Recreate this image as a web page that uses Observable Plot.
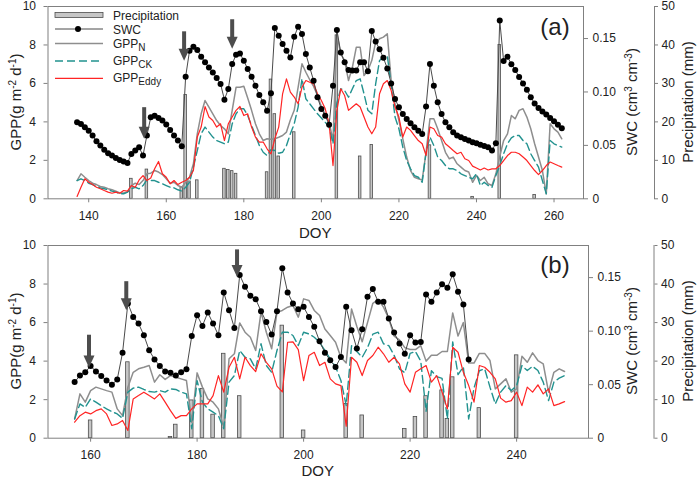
<!DOCTYPE html>
<html><head><meta charset="utf-8">
<script src="https://cdn.jsdelivr.net/npm/d3@7"></script>
<script src="https://cdn.jsdelivr.net/npm/@observablehq/plot@0.6"></script>
<style>
body{margin:0;background:#fff;font-family:"Liberation Sans",Arial,sans-serif;}
#root{position:relative;width:697px;height:480px;overflow:hidden;background:#fff;}
.panel{position:absolute;left:0;width:697px;height:240px;}
.panel svg{position:absolute;left:0;top:0;}
.lab{position:absolute;white-space:nowrap;font-size:15px;line-height:1;color:#222;transform:translate(-50%,-50%) rotate(-90deg);}
.hlab{position:absolute;white-space:nowrap;font-size:15px;line-height:1;color:#222;transform:translate(-50%,-50%);}
.lab sup{font-size:10px;vertical-align:0.45em;line-height:0;}
</style></head>
<body><div id="root"></div>
<script>
// ---------------- Panel (a) data ----------------
const startA = 137;
const swcA = [0.0716,0.0700,0.0669,0.0638,0.0592,0.0538,0.0498,0.0458,0.0426,0.0405,0.0383,0.0364,0.0349,0.0336,
0.0420,0.0451,0.0482,0.0405,0.0592,0.0763,0.0778,0.0757,0.0732,0.0695,0.0645,0.0592,0.0545,0.0492,
0.1143,0.1386,0.1423,0.1393,0.1330,0.1277,0.1230,0.1183,0.1131,0.1075,0.0928,0.1028,0.1262,0.1349,0.1361,
0.1293,0.1215,0.1143,0.1059,0.0972,0.0903,0.0825,0.0987,0.1598,0.1526,0.1449,0.1386,0.1323,0.1517,0.1610,
0.1542,0.1355,0.1230,0.1106,0.0950,0.0841,0.0778,0.0694,0.1059,0.1580,0.1370,0.1277,0.1206,0.1200,0.1200,
0.1277,0.1277,0.1193,0.1570,0.1473,0.1400,0.1320,0.1220,0.1080,0.0935,0.0856,0.0794,0.0747,0.0707,0.0669,
0.0638,0.0607,0.0863,0.1262,0.1059,0.0903,0.0794,0.0716,0.0669,0.0623,0.0592,0.0576,0.0560,0.0545,0.0529,
0.0520,0.0507,0.0495,0.0483,0.0451,0.0520,0.1670,0.1290,0.1330,0.1260,0.1206,0.1140,0.1080,0.1020,0.0950,
0.0893,0.0850,0.0816,0.0788,0.0757,0.0725,0.0694,0.0660];
const gppNA = [0.95,1.30,1.12,0.95,0.81,0.74,0.64,0.60,0.52,0.47,0.40,0.30,0.30,0.35,0.69,0.81,0.74,0.95,1.30,1.33,
1.47,1.39,1.26,1.04,0.81,0.86,0.69,0.60,0.86,1.12,1.82,3.38,4.42,5.11,4.77,4.42,4.07,3.81,3.64,3.38,4.60,5.80,
5.80,5.85,5.24,4.60,3.90,3.38,3.03,3.12,3.10,3.12,3.20,3.29,3.47,4.10,4.60,5.80,7.02,6.58,6.19,5.84,5.37,4.80,
4.38,3.98,3.03,8.58,7.54,7.19,6.15,6.84,7.88,7.88,6.41,6.67,7.19,8.15,8.32,8.41,8.58,6.15,4.94,4.07,3.12,2.17,
1.47,1.12,1.04,0.98,2.42,4.16,4.16,3.64,3.03,2.42,2.08,2.17,1.82,1.65,1.47,1.39,0.86,1.21,0.95,1.12,0.78,0.69,
1.30,2.20,3.03,3.38,4.33,4.16,4.60,4.68,4.25,3.64,2.86,2.17,1.47,0.26,3.90,3.64,3.47,3.12];
const gppCKA = [0.95,1.04,0.95,0.81,0.74,0.64,0.57,0.52,0.47,0.40,0.35,0.26,0.26,0.35,0.52,0.60,0.52,0.69,0.98,0.95,
0.95,0.86,0.78,0.69,0.60,0.57,0.47,0.40,0.60,0.86,1.65,2.51,3.38,3.73,3.47,3.21,3.03,2.95,2.86,2.95,3.90,4.42,
4.68,4.68,4.33,3.81,3.29,2.77,2.42,2.25,2.55,2.51,2.37,2.42,2.77,3.38,3.90,4.77,6.24,5.20,4.94,4.68,4.42,4.20,
3.98,3.73,2.86,5.00,5.72,5.63,5.28,5.72,6.15,6.24,5.46,4.60,4.42,5.98,7.19,7.37,7.45,5.89,4.25,3.64,2.69,1.99,
1.56,1.21,1.12,0.86,2.42,3.21,2.77,2.17,1.99,1.73,1.56,1.56,1.47,1.30,1.21,1.12,1.04,1.30,0.69,0.86,0.69,0.60,
1.21,1.73,2.34,2.86,3.17,3.29,3.29,3.03,2.86,2.34,1.99,1.65,0.95,0.26,3.03,2.86,2.77,2.69];
const gppEA = [0.12,0.60,1.04,0.86,0.74,0.60,0.52,0.43,0.35,0.29,0.35,0.29,0.43,0.40,0.69,0.60,0.98,1.21,0.95,1.08,
1.56,1.94,1.30,1.12,0.78,0.95,0.74,0.86,0.95,1.12,1.47,3.21,3.73,4.80,4.25,4.07,3.73,3.90,3.03,3.90,4.25,4.60,
4.80,4.33,4.42,3.73,3.21,2.95,2.95,2.60,2.34,3.12,3.73,5.46,6.24,5.55,5.29,4.94,5.80,6.15,6.06,5.98,5.46,5.11,
4.68,3.90,1.73,4.60,5.72,5.37,4.60,4.77,4.94,4.77,4.25,3.73,3.38,3.73,5.46,5.98,6.15,5.63,4.77,4.25,3.21,3.73,
3.56,3.29,3.03,2.86,2.25,3.73,3.64,3.29,3.21,2.86,2.69,2.51,2.34,2.42,2.08,1.99,1.70,1.60,1.50,1.60,1.50,1.56,
1.56,1.73,1.99,2.25,2.42,2.42,2.34,2.17,1.99,1.73,1.47,1.26,1.47,1.73,1.91,1.82,1.73,1.65];
const rainDoyA = [151,155,164,165,166,168,175,176,177,178,186,187,188,189,193,204,210,213,228,239,246,255];
const rainA = [5.2,7.6,3.0,27,4.5,4.8,7.8,7.5,7.2,6.5,6.9,31,22,11,17.3,42.5,11,14,13.9,0.5,40,1.0];
const arrowDoyA = [154.3,164.6,177.0];
const arrowTopA = [0.0853,0.1563,0.1676];
const arrowTipA = [0.0563,0.1293,0.1405];
const xTicksA = [140,160,180,200,220,240,260];

// ---------------- Panel (b) data ----------------
const startB = 157;
const swcB = [0.0524,0.0586,0.0617,0.0674,0.0624,0.0580,0.0540,0.0499,0.0549,0.0799,0.1259,0.1133,0.1071,0.0962,
0.0821,0.0736,0.0674,0.0624,0.0611,0.0586,0.0617,0.0643,0.0955,0.1149,0.1049,0.1174,0.1071,0.0962,0.1362,0.1196,
0.1030,0.1524,0.1415,0.1330,0.1299,0.1187,0.1086,0.0968,0.1187,0.1587,0.1362,0.1259,0.1205,0.1227,0.1133,0.1040,
0.0905,0.0799,0.0727,0.0664,0.0758,0.1227,0.1008,0.0837,0.1018,0.1321,0.1393,0.1274,0.1274,0.1118,0.0987,0.0884,
0.0790,0.0962,0.0893,0.0899,0.1343,0.1274,0.1362,0.1437,0.1405,0.1531,0.1368,0.1249,0.0736];
const gppNB = [1.00,2.30,1.87,2.47,2.65,2.56,2.47,2.39,1.52,1.17,2.65,3.42,3.60,3.68,3.77,2.91,3.29,3.05,3.25,3.16,
3.08,2.99,0.83,3.39,2.65,2.04,1.87,1.52,0.57,4.12,4.38,5.98,5.50,5.24,4.55,6.54,5.50,4.64,6.54,6.63,6.80,6.89,
6.28,7.23,7.15,6.63,6.37,5.67,5.33,4.98,4.20,3.90,6.70,5.80,5.00,6.00,7.00,7.20,6.80,6.20,5.30,5.10,4.70,4.60,
4.60,4.80,4.00,4.30,4.30,4.50,4.50,6.50,5.30,6.00,3.90,3.90,4.40,4.40,4.03,2.56,2.82,3.08,2.39,2.56,4.25,3.94,
4.43,4.03,3.86,2.39,3.42,3.60,3.46];
const gppCKB = [1.00,1.78,1.60,2.04,1.87,1.69,1.52,1.38,1.26,1.03,2.39,2.60,2.65,2.53,2.42,2.39,2.47,2.39,2.56,2.53,
2.39,2.30,0.49,2.99,1.87,1.52,1.35,1.17,0.49,2.91,3.25,4.55,4.20,4.12,3.60,4.90,3.77,3.42,4.55,5.50,5.50,5.33,
4.81,5.50,5.41,5.24,4.98,4.55,4.12,3.70,3.00,1.70,4.80,4.50,4.20,4.70,5.40,5.50,4.90,4.80,4.30,3.60,3.40,4.40,
4.50,4.00,1.40,3.50,3.20,3.10,1.00,5.00,3.30,3.70,1.00,2.60,3.50,3.60,2.65,1.78,2.39,2.73,2.47,2.73,3.77,3.51,
3.73,3.51,2.91,1.95,2.91,3.12,3.25];
const gppEB = [0.83,1.17,1.35,1.26,1.43,1.52,1.26,0.66,0.74,0.92,0.40,2.04,2.21,2.39,2.21,2.04,2.30,1.87,1.43,1.03,
1.17,1.17,1.52,1.78,1.78,1.78,2.21,3.25,2.39,3.68,4.20,3.08,4.20,3.77,3.46,4.38,3.94,3.60,2.70,2.40,4.98,5.00,
4.60,2.99,4.29,4.46,3.77,3.94,3.08,2.82,2.73,0.62,4.20,3.94,3.25,4.03,4.29,4.72,4.38,3.94,4.20,3.86,2.82,2.39,
3.42,3.60,3.77,2.91,3.25,2.39,1.52,4.72,4.46,3.42,2.73,1.87,3.77,3.68,3.42,3.08,2.08,1.87,1.95,2.39,1.69,2.65,
2.39,2.77,2.30,2.56,1.69,1.78,1.90];
const rainDoyB = [160,167,175,176,179,181,183,185,188,196,200,208,211,219,221,223,226,227,228,233,240];
const rainB = [4.6,19.7,0.3,3.5,9.8,12.8,6.1,21.9,10.9,29.2,2.0,8.9,5.9,2.4,5.5,10.9,12.4,5.0,15.8,7.8,21.5];
const arrowDoyB = [159.7,166.7,187.5];
const arrowTopB = [0.0962,0.1462,0.1759];
const arrowTipB = [0.0661,0.1196,0.1506];
const xTicksB = [160,180,200,220,240];

// ---------------- shared ----------------
const gppTicks = [0,2,4,6,8,10];
const swcTicks = [0,0.05,0.10,0.15];
const rainTicks = [0,10,20,30,40,50];

const series = (start, vals) => vals.map((v,i)=>({doy:start+i, v}));
const bars = (days, vals) => days.map((d,i)=>({doy:d, mm:vals[i]}));
const arrows = (days, tops, tips) => days.map((d,i)=>({doy:d, top:tops[i], tip:tips[i]}));

const C = {frame:"#808080", text:"#222", n:"#8e8e8e", ck:"#22928f", e:"#ff2424", swcLine:"#4a4a4a", bar:"#c6c6c6", barStroke:"#4d4d4d", arrow:"#4d4d4d"};
const svgStyle = "position:absolute;left:0;top:0;background:transparent;overflow:visible;font-family:'Liberation Sans',Arial,sans-serif;font-size:12px;color:#222;";
const headSymbol = {draw(ctx){ ctx.moveTo(-5.5,-12); ctx.lineTo(5.5,-12); ctx.lineTo(0,0); ctx.closePath(); }};

function panel(cfg){
  const div = document.createElement("div");
  div.className = "panel";
  div.style.top = cfg.top + "px";
  const common = {width:697, height:240, marginLeft:47.5, marginTop:cfg.mt, marginBottom:cfg.mb, style:svgStyle};
  const xRight = 697 - cfg.mr;

  // precipitation layer (bottom)
  const pr = Plot.plot({...common, marginRight:697 - cfg.rainAxis,
    x:{domain:cfg.xdom, range:[47.5, xRight], axis:null},
    y:{domain:[0,50], axis:null},
    marks:[
      Plot.rect(cfg.rain, {x1:d=>d.doy-0.33, x2:d=>d.doy+0.33, y1:d=>0, y2:"mm", fill:C.bar, stroke:C.barStroke, strokeWidth:0.8}),
      Plot.frame({anchor:"right", stroke:C.frame}),
      Plot.axisY({anchor:"right", ticks:rainTicks, tickSize:3, tickPadding:4, label:null, stroke:C.frame, fill:C.text})
    ]});
  div.appendChild(pr);

  // GPP layer
  const gp = Plot.plot({...common, marginRight:cfg.mr,
    x:{domain:cfg.xdom}, y:{domain:[0,10]},
    marks:[
      Plot.frame({stroke:C.frame}),
      Plot.axisY({ticks:gppTicks, tickSize:4, tickPadding:8, label:null, stroke:C.frame, fill:C.text}),
      Plot.axisX({ticks:cfg.xticks, tickSize:4, tickPadding:cfg.tpx, label:null, stroke:C.frame, fill:C.text}),
      Plot.line(cfg.n, {x:"doy", y:"v", stroke:C.n, strokeWidth:1.5}),
      Plot.line(cfg.ck, {x:"doy", y:"v", stroke:C.ck, strokeWidth:1.4, strokeDasharray:"8,4"}),
      Plot.line(cfg.e, {x:"doy", y:"v", stroke:C.e, strokeWidth:1.2})
    ]});
  div.appendChild(gp);

  // SWC layer (top)
  const sw = Plot.plot({...common, marginRight:cfg.mr,
    x:{domain:cfg.xdom, axis:null}, y:{domain:[0,0.18], axis:null},
    marks:[
      Plot.axisY({anchor:"right", ticks:swcTicks, tickFormat:d=>d===0?"0":d.toFixed(2), tickSize:4, tickPadding:5, label:null, stroke:C.frame, fill:C.text}),
      Plot.line(cfg.swc, {x:"doy", y:"v", stroke:C.swcLine, strokeWidth:1}),
      Plot.dot(cfg.swc, {x:"doy", y:"v", r:3, fill:"#000", stroke:"none"}),
      Plot.ruleX(cfg.arr, {x:"doy", y1:"top", y2:"tip", stroke:C.arrow, strokeWidth:4, insetBottom:9}),
      Plot.dot(cfg.arr, {x:"doy", y:"tip", symbol:headSymbol, r:4, fill:C.arrow, stroke:"none"})
    ]});
  div.appendChild(sw);

  // axis titles
  const frameMid = cfg.mt + (240 - cfg.mt - cfg.mb)/2;
  const add = (cls, x, y, html, fs) => { const d = document.createElement("div"); d.className = cls; d.style.left = x+"px"; d.style.top = y+"px"; if(fs) d.style.fontSize = fs; d.innerHTML = html; div.appendChild(d); };
  add("lab", 15, frameMid, "GPP(g m<sup>-2</sup> d<sup>-1</sup>)");
  add("lab", 631, frameMid, "SWC (cm<sup>3</sup> cm<sup>-3</sup>)");
  add("lab", 686.5, frameMid, "Precipitation (mm)");
  add("hlab", (47.5 + xRight)/2, cfg.doyY, "DOY");
  add("hlab", 555, cfg.letterY, cfg.letter, "24px");
  return div;
}

const root = document.getElementById("root");
const pA = panel({top:0, mt:6, mb:41.7, mr:114, rainAxis:654, xdom:[129.5,267.6], xticks:xTicksA, tpx:9,
  swc:series(startA, swcA), n:series(startA, gppNA), ck:series(startA, gppCKA), e:series(startA, gppEA),
  rain:bars(rainDoyA, rainA), arr:arrows(arrowDoyA, arrowTopA, arrowTipA), letter:"(a)", letterY:27, doyY:232});
root.appendChild(pA);
const pB = panel({top:240, mt:5, mb:42.3, mr:109, rainAxis:653.5, xdom:[152,253.5], xticks:xTicksB, tpx:8,
  swc:series(startB, swcB), n:series(startB, gppNB), ck:series(startB, gppCKB), e:series(startB, gppEB),
  rain:bars(rainDoyB, rainB), arr:arrows(arrowDoyB, arrowTopB, arrowTipB), letter:"(b)", letterY:25, doyY:230});
root.appendChild(pB);

// legend (panel a)
const ns = "http://www.w3.org/2000/svg";
const leg = document.createElementNS(ns, "svg");
leg.setAttribute("width", 200); leg.setAttribute("height", 95);
leg.setAttribute("style", "position:absolute;left:0;top:0;font-family:'Liberation Sans',Arial,sans-serif;font-size:12px;");
leg.innerHTML = `
<rect x="55" y="12.5" width="48" height="5" fill="${C.bar}" stroke="${C.barStroke}" stroke-width="0.8"/>
<text x="113" y="19.5" fill="#222">Precipitation</text>
<line x1="55" x2="103" y1="29" y2="29" stroke="${C.swcLine}" stroke-width="1"/>
<circle cx="78" cy="29" r="3" fill="#000"/>
<text x="113" y="33.5" fill="#222">SWC</text>
<line x1="55" x2="103" y1="43.5" y2="43.5" stroke="${C.n}" stroke-width="1.5"/>
<text x="113" y="47.5" fill="#222">GPP<tspan font-size="10" dy="3">N</tspan></text>
<line x1="55" x2="103" y1="61" y2="61" stroke="${C.ck}" stroke-width="1.4" stroke-dasharray="8,4"/>
<text x="113" y="64.5" fill="#222">GPP<tspan font-size="10" dy="3">CK</tspan></text>
<line x1="55" x2="103" y1="78.3" y2="78.3" stroke="${C.e}" stroke-width="1.2"/>
<text x="113" y="81.5" fill="#222">GPP<tspan font-size="10" dy="3">Eddy</tspan></text>`;
pA.appendChild(leg);
</script>
</body></html>
